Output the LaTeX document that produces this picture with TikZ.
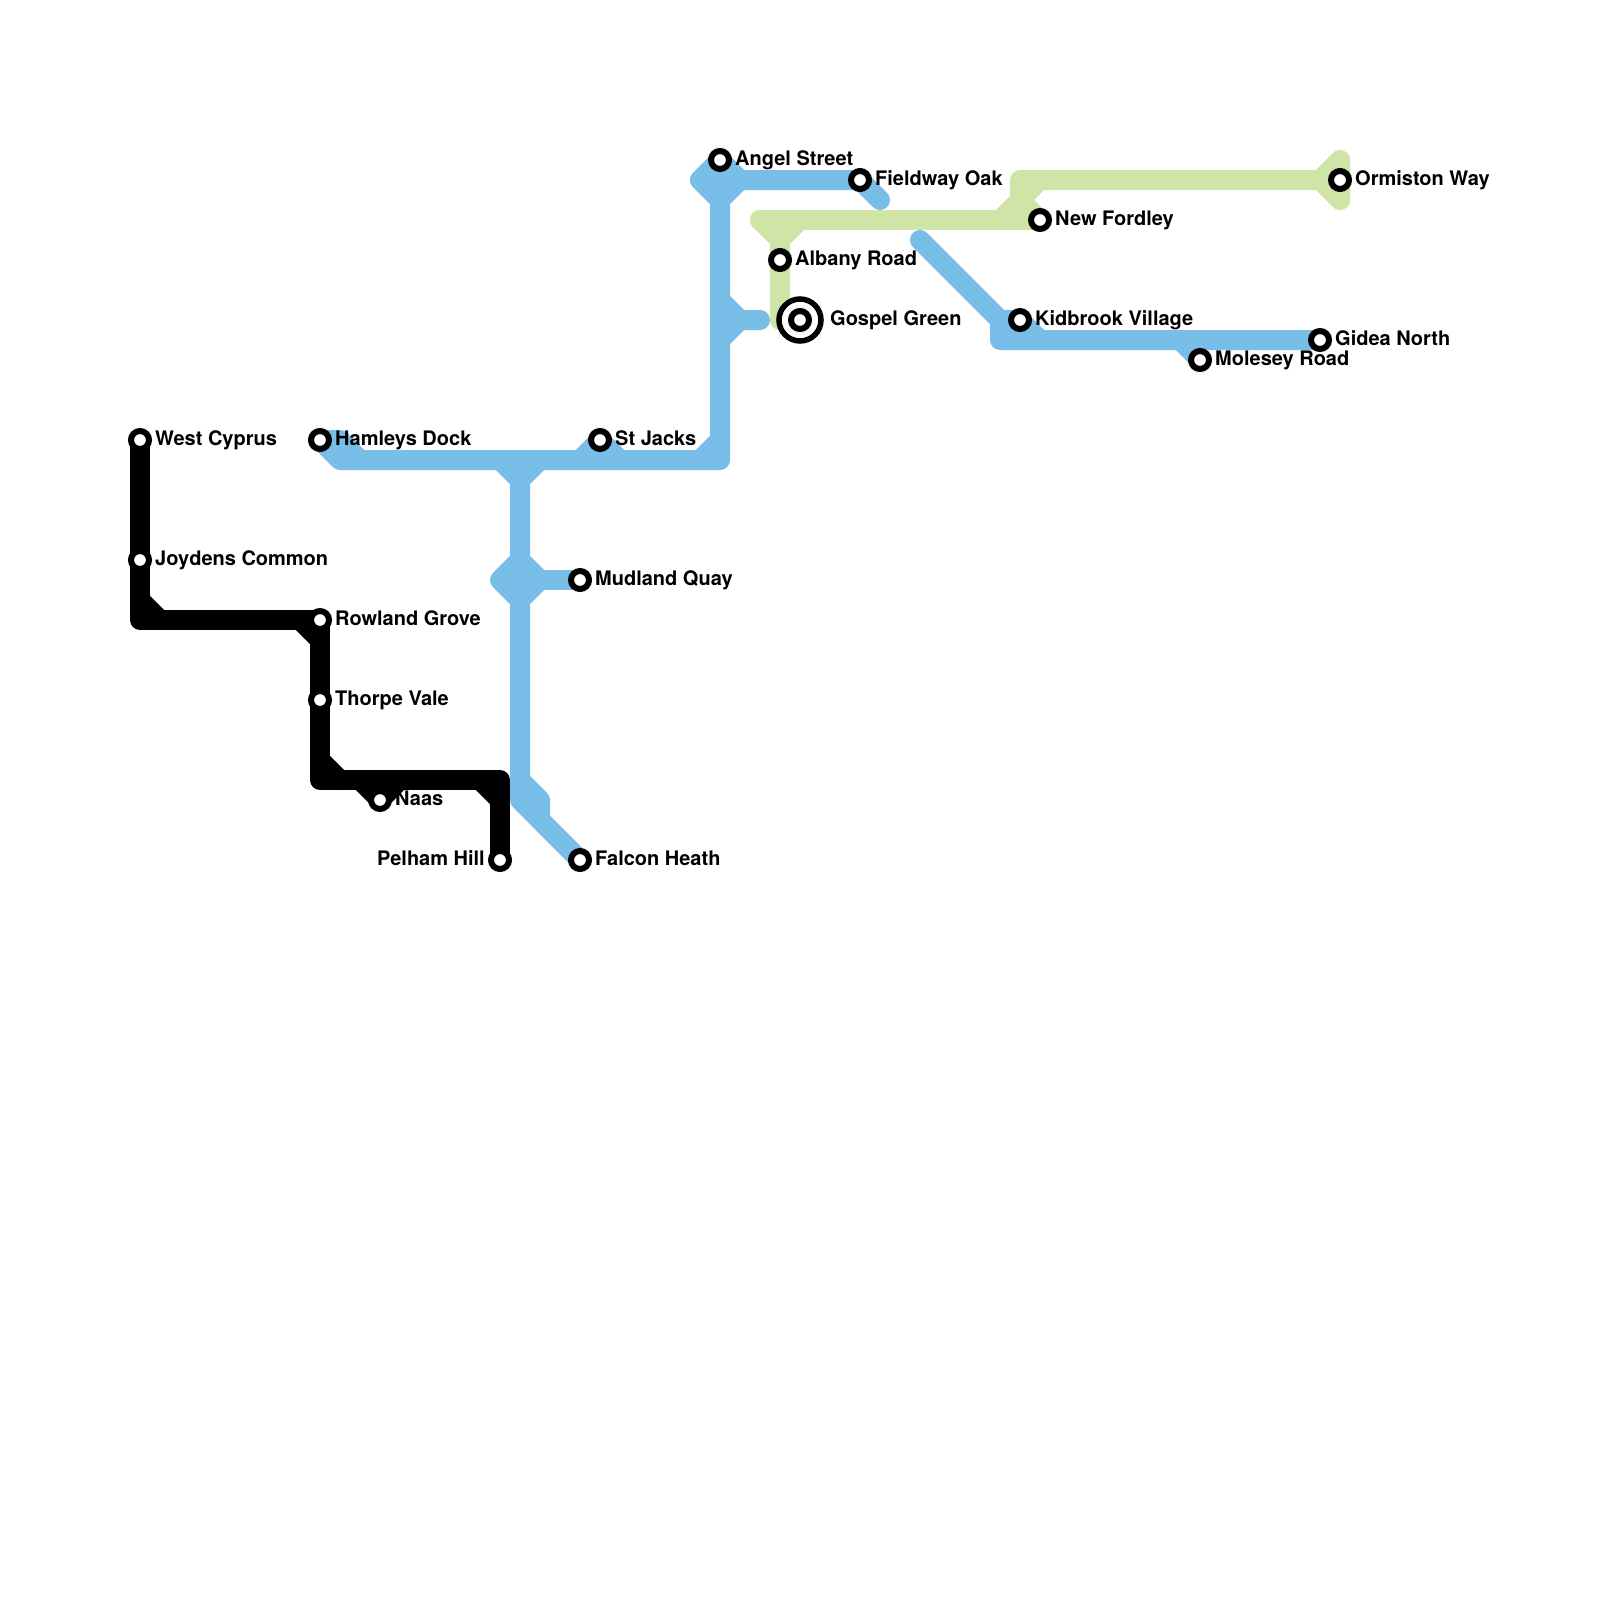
\documentclass[tikz,border=0pt]{standalone}
\usepackage{fontspec}
\setmainfont{TeX Gyre Heros}
\usetikzlibrary{backgrounds}
\definecolor{skyline}{HTML}{79BDE9}
\definecolor{limeline}{HTML}{CFE5A7}
\tikzset{
  track/.style={line width=20pt,line cap=round,line join=round},
  station/.style={circle,draw=black,fill=white,line width=6pt,minimum size=18pt,inner sep=0pt,outer sep=0pt},
  hub/.style={circle,draw=black,fill=white,line width=5.5pt,minimum size=42pt,inner sep=0pt,outer sep=0pt},
  stname/.style={anchor=base west,inner sep=0pt,xshift=15pt,yshift=-5pt},
  stnameleft/.style={anchor=base east,inner sep=0pt,xshift=-15pt,yshift=-5pt}
}

\begin{document}
\begin{tikzpicture}[x=20pt,y=-20pt,font=\fontsize{20}{24}\selectfont\bfseries]
  \useasboundingbox (0,0) rectangle (80,80);

  % black line stations
  \node[station] (west) at (7,22) {};
  \node[station] (joydens) at (7,28) {};
  \node[station] (rowland) at (16,31) {};
  \node[station] (thorpe) at (16,35) {};
  \node[station] (naas) at (19,40) {};
  \node[station] (pelham) at (25,43) {};

  % blue line stations
  \node[station] (hamleys) at (16,22) {};
  \node[station] (stjacks) at (30,22) {};
  \node[station] (mudland) at (29,29) {};
  \node[station] (falcon) at (29,43) {};
  \node[station] (angel) at (36,8) {};
  \node[station] (fieldway) at (43,9) {};
  \node[station] (kidbrook) at (51,16) {};
  \node[station] (molesey) at (60,18) {};
  \node[station] (gidea) at (66,17) {};

  % green line stations
  \node[station] (albany) at (39,13) {};
  \node[station] (fordley) at (52,11) {};
  \node[station] (ormiston) at (67,9) {};
  \node[hub] (gospelring) at (40,16) {};
  \node[station] (gospel) at (gospelring.center) {};

  % station names
  \node[stname] (westname) at (west) {West Cyprus};
  \node[stname] (joydensname) at (joydens) {Joydens Common};
  \node[stname] (rowlandname) at (rowland) {Rowland Grove};
  \node[stname] (thorpename) at (thorpe) {Thorpe Vale};
  \node[stname] (naasname) at (naas) {Naas};
  \node[stnameleft] (pelhamname) at (pelham) {Pelham Hill};
  \node[stname] (hamleysname) at (hamleys) {Hamleys Dock};
  \node[stname] (stjacksname) at (stjacks) {St Jacks};
  \node[stname] (mudlandname) at (mudland) {Mudland Quay};
  \node[stname] (falconname) at (falcon) {Falcon Heath};
  \node[stname] (angelname) at (angel) {Angel Street};
  \node[stname] (fieldwayname) at (fieldway) {Fieldway Oak};
  \node[stname] (kidbrookname) at (kidbrook) {Kidbrook Village};
  \node[stname] (moleseyname) at (molesey) {Molesey Road};
  \node[stname] (gideaname) at (gidea) {Gidea North};
  \node[stname] (albanyname) at (albany) {Albany Road};
  \node[stname] (fordleyname) at (fordley) {New Fordley};
  \node[stname] (ormistonname) at (ormiston) {Ormiston Way};
  \node[stname,xshift=15pt] (gospelname) at (gospel) {Gospel Green};

  \begin{scope}[on background layer]
    \fill[white] (0,0) rectangle (80,80);

    % blue
    \draw[track,skyline] (angel.center)--(35,9)--(36,10)--(37,9)--cycle;
    \draw[track,skyline] (35,9)--(fieldway.center)--(44,10);
    \draw[track,skyline] (36,10)--(36,23)--(17,23)--(hamleys.center)--(17,22)--(18,23);
    \draw[track,skyline] (35,23)--(36,22);
    \draw[track,skyline] (36,15)--(37,16)--(38,16);
    \draw[track,skyline] (37,16)--(36,17);
    \draw[track,skyline] (29,23)--(stjacks.center)--(31,23);
    \draw[track,skyline] (25,23)--(26,24)--(27,23);
    \draw[track,skyline] (26,24)--(26,40)--(falcon.center);
    \draw[track,skyline] (26,28)--(25,29)--(26,30)--(27,29)--cycle;
    \draw[track,skyline] (26,29)--(mudland.center);
    \draw[track,skyline] (26,39)--(27,40)--(27,41)--(falcon.center);
    \draw[track,skyline] (46,12)--(50,16)--(50,17)--(gidea.center);
    \draw[track,skyline] (50,16)--(kidbrook.center)--(52,17);
    \draw[track,skyline] (59,17)--(molesey.center);

    % green
    \draw[track,limeline] (38,11)--(fordley.center);
    \draw[track,limeline] (38,11)--(39,12)--(40,11);
    \draw[track,limeline] (39,12)--(39,16);
    \draw[track,limeline] (50,11)--(51,10)--(51,9)--(ormiston.center);
    \draw[track,limeline] (51,10)--(52,9);
    \draw[track,limeline] (51,10)--(fordley.center);
    \draw[track,limeline] (66,9)--(67,8)--(67,10)--cycle;

    % black
    \draw[track,black] (west.center)--(7,31)--(rowland.center)--(16,39)--(25,39)--(pelham.center);
    \draw[track,black] (7,30)--(8,31);
    \draw[track,black] (15,31)--(16,32);
    \draw[track,black] (16,38)--(17,39);
    \draw[track,black] (24,39)--(25,40);
    \draw[track,black] (18,39)--(naas.center)--(20,39);
  \end{scope}
\end{tikzpicture}
\end{document}
